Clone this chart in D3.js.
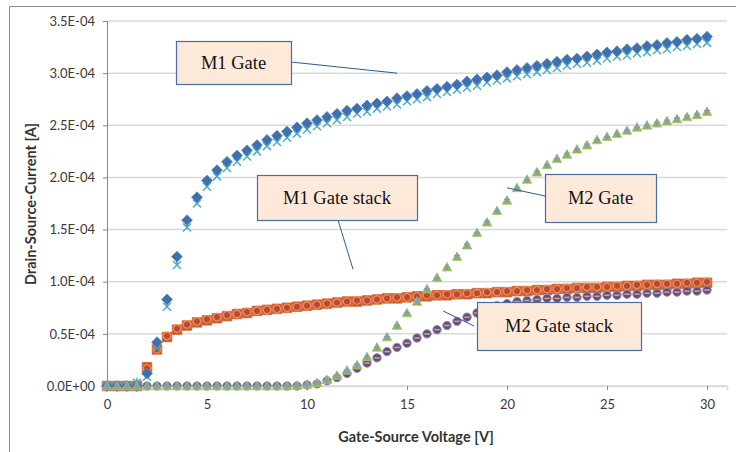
<!DOCTYPE html>
<html>
<head>
<meta charset="utf-8">
<script src="https://cdn.jsdelivr.net/npm/d3@7"></script>
<style>
  body { margin: 0; background: #fff; }
  svg { display: block; }
  .tick text { font-family: Lato, "Open Sans", sans-serif; font-size: 13px; fill: #3a3a3a; }
  .axis-title { font-family: Lato, "Open Sans", sans-serif; font-size: 14.5px; font-weight: bold; fill: #333; }
  .callout text { font-family: "Liberation Serif", "Times New Roman", serif; font-size: 18.5px; fill: #111; }
</style>
</head>
<body>
<svg id="chart"></svg>
<script>
// gate-source sweep, 0..30 V in 0.5 V steps
const volts = d3.range(0, 30.001, 0.5);

// drain-source current, in units of 1E-04 A
const m1Diamond = [
  0, 0, 0, 0, 0.12, 0.42, 0.83, 1.24, 1.59, 1.81,
  1.97, 2.07, 2.15, 2.21, 2.26, 2.31, 2.36, 2.40, 2.44, 2.48,
  2.52, 2.55, 2.58, 2.61, 2.64, 2.66, 2.69, 2.71, 2.73, 2.76,
  2.78, 2.80, 2.83, 2.85, 2.87, 2.89, 2.92, 2.94, 2.96, 2.98,
  3.01, 3.03, 3.05, 3.07, 3.09, 3.11, 3.13, 3.14, 3.16, 3.18,
  3.20, 3.21, 3.23, 3.24, 3.26, 3.27, 3.29, 3.30, 3.32, 3.33,
  3.35];
const m1Star = [
  0, 0, 0, 0.03, 0.09, 0.37, 0.76, 1.16, 1.52, 1.75,
  1.91, 2.01, 2.09, 2.15, 2.20, 2.25, 2.30, 2.34, 2.38, 2.42,
  2.46, 2.49, 2.52, 2.55, 2.58, 2.61, 2.63, 2.66, 2.68, 2.70,
  2.73, 2.75, 2.77, 2.80, 2.82, 2.84, 2.86, 2.88, 2.91, 2.93,
  2.95, 2.97, 2.99, 3.01, 3.03, 3.05, 3.07, 3.09, 3.10, 3.12,
  3.14, 3.16, 3.17, 3.19, 3.20, 3.22, 3.23, 3.25, 3.26, 3.28,
  3.29];
const m1StackSquare = [
  0, 0, 0, 0, 0.18, 0.35, 0.47, 0.54, 0.58, 0.61,
  0.63, 0.65, 0.67, 0.69, 0.70, 0.72, 0.73, 0.74, 0.75, 0.76,
  0.77, 0.78, 0.79, 0.80, 0.81, 0.81, 0.82, 0.83, 0.84, 0.84,
  0.85, 0.86, 0.86, 0.87, 0.87, 0.88, 0.88, 0.89, 0.89, 0.90,
  0.90, 0.91, 0.91, 0.92, 0.92, 0.93, 0.93, 0.94, 0.94, 0.94,
  0.95, 0.95, 0.96, 0.96, 0.97, 0.97, 0.97, 0.98, 0.98, 0.99,
  0.99];
const m1StackCircle = [
  0, 0, 0, 0, 0.17, 0.35, 0.48, 0.55, 0.59, 0.62,
  0.64, 0.66, 0.68, 0.69, 0.71, 0.72, 0.73, 0.74, 0.75, 0.76,
  0.77, 0.78, 0.79, 0.80, 0.81, 0.82, 0.82, 0.83, 0.84, 0.85,
  0.85, 0.86, 0.87, 0.87, 0.88, 0.88, 0.89, 0.89, 0.90, 0.90,
  0.91, 0.91, 0.92, 0.92, 0.93, 0.93, 0.94, 0.94, 0.95, 0.95,
  0.95, 0.96, 0.96, 0.97, 0.97, 0.98, 0.98, 0.98, 0.99, 0.99,
  1.00];
const m2Triangle = [
  0, 0, 0, 0, 0, 0, 0, 0, 0, 0,
  0, 0, 0, 0, 0, 0, 0, 0, 0, 0.005,
  0.015, 0.03, 0.06, 0.10, 0.15, 0.20, 0.28, 0.37, 0.47, 0.58,
  0.70, 0.81, 0.93, 1.04, 1.14, 1.24, 1.35, 1.47, 1.57, 1.68,
  1.78, 1.90, 1.98, 2.05, 2.12, 2.18, 2.22, 2.27, 2.31, 2.36,
  2.39, 2.42, 2.45, 2.48, 2.50, 2.52, 2.54, 2.56, 2.58, 2.60,
  2.63];
const m2Cross = [
  0, 0, 0, 0, 0, 0, 0, 0, 0, 0,
  0, 0, 0, 0, 0, 0, 0, 0, 0, 0.005,
  0.015, 0.03, 0.06, 0.10, 0.15, 0.21, 0.28, 0.37, 0.47, 0.58,
  0.70, 0.82, 0.93, 1.04, 1.14, 1.25, 1.36, 1.47, 1.58, 1.68,
  1.79, 1.90, 1.98, 2.06, 2.12, 2.18, 2.23, 2.27, 2.32, 2.36,
  2.39, 2.42, 2.45, 2.48, 2.50, 2.53, 2.55, 2.57, 2.59, 2.61,
  2.64];
const m2StackCircle = [
  0, 0, 0, 0, 0, 0, 0, 0, 0, 0,
  0, 0, 0, 0, 0, 0, 0, 0, 0, 0,
  0.01, 0.02, 0.05, 0.08, 0.12, 0.17, 0.22, 0.27, 0.33, 0.37,
  0.41, 0.46, 0.50, 0.54, 0.58, 0.62, 0.66, 0.70, 0.74, 0.77,
  0.79, 0.81, 0.82, 0.83, 0.84, 0.84, 0.85, 0.85, 0.86, 0.86,
  0.87, 0.87, 0.88, 0.88, 0.89, 0.89, 0.90, 0.90, 0.91, 0.91,
  0.92];
const m2StackDash = [
  0, 0, 0, 0, 0, 0, 0, 0, 0, 0,
  0, 0, 0, 0, 0, 0, 0, 0, 0, 0,
  0.01, 0.02, 0.05, 0.08, 0.12, 0.17, 0.22, 0.27, 0.33, 0.37,
  0.41, 0.46, 0.50, 0.54, 0.58, 0.62, 0.66, 0.70, 0.74, 0.77,
  0.79, 0.81, 0.82, 0.83, 0.84, 0.84, 0.85, 0.85, 0.86, 0.86,
  0.87, 0.87, 0.88, 0.88, 0.89, 0.89, 0.90, 0.90, 0.91, 0.91,
  0.92];

const xTicks = [0, 5, 10, 15, 20, 25, 30];
const yTicks = [0, 0.5, 1.0, 1.5, 2.0, 2.5, 3.0, 3.5];

const callouts = [
  {text: 'M1 Gate', box: [176, 41, 115, 43], from: [291, 62], toV: 14.5, toI: 3.00},
  {text: 'M1 Gate stack', box: [257, 175, 160, 45], from: [338, 220], toV: 12.3, toI: 1.12},
  {text: 'M2 Gate', box: [545, 174, 111, 48], from: [545, 196], toV: 20.0, toI: 1.90},
  {text: 'M2 Gate stack', box: [477, 302, 164, 48], from: [474, 326], toV: 16.8, toI: 0.72}
];

const width = 736, height = 452;
const svg = d3.select('#chart').attr('width', width).attr('height', height);

// chart frame
svg.append('path')
  .attr('d', `M9.5,${height}V6.5H${width}`)
  .attr('fill', 'none')
  .attr('stroke', '#8c8c8c');

const x = d3.scaleLinear().domain([0, 31]).range([107, 727]);
const y = d3.scaleLinear().domain([0, 3.5]).range([386, 21]);

// grid
svg.append('g')
  .selectAll('line')
  .data(yTicks)
  .join('line')
  .attr('x1', x(0)).attr('x2', x(31))
  .attr('y1', d => y(d)).attr('y2', d => y(d))
  .attr('stroke', '#d9d9d9')
  .attr('stroke-width', 1.5);

const yFmt = d => d === 0 ? '0.0E+00' : d.toFixed(1) + 'E-04';

const yAxis = svg.append('g')
  .attr('transform', `translate(${x(0)},0)`)
  .call(d3.axisLeft(y).tickValues(yTicks).tickFormat(yFmt).tickSize(4).tickPadding(8));
yAxis.select('.domain').attr('stroke', '#868686');
yAxis.selectAll('.tick line').attr('stroke', '#868686');

const xAxis = svg.append('g')
  .attr('transform', `translate(0,${y(0)})`)
  .call(d3.axisBottom(x).tickValues(xTicks).tickFormat(d3.format('d')).tickSize(4).tickPadding(10));
xAxis.select('.domain').attr('stroke', '#d9d9d9').attr('stroke-width', 1.5);
xAxis.selectAll('.tick line').attr('stroke', '#868686');

svg.append('text')
  .attr('class', 'axis-title')
  .attr('text-anchor', 'middle')
  .attr('x', 416).attr('y', 442)
  .text('Gate-Source Voltage [V]');

svg.append('text')
  .attr('class', 'axis-title')
  .attr('text-anchor', 'middle')
  .attr('transform', 'translate(36,204) rotate(-90)')
  .text('Drain-Source-Current [A]');

// marker shapes
const diamond = r => `M0,${-r}L${r},0L0,${r}L${-r},0Z`;
const square = r => `M${-r},${-r}H${r}V${r}H${-r}Z`;
const triangle = r => `M0,${-r}L${r},${r * 0.8}H${-r}Z`;
const star = r => `M${-r},${-r}L${r},${r}M${r},${-r}L${-r},${r}M0,0V${-r * 1.2}`;
const cross = r => `M${-r},0H${r}M0,${-r}V${r}`;
const dash = r => `M${-r},0H${r}`;
const circle = r => `M${r},0A${r},${r} 0 1,1 ${-r},0A${r},${r} 0 1,1 ${r},0Z`;

const plot = svg.append('g');

function drawSeries(values, shape, r, style) {
  const g = plot.append('g');
  g.selectAll('path')
    .data(values.map((v, i) => [volts[i], v]))
    .join('path')
    .attr('transform', d => `translate(${x(d[0])},${y(d[1])})`)
    .attr('d', shape(r))
    .attr('fill', style.fill || 'none')
    .attr('stroke', style.stroke || 'none')
    .attr('stroke-width', style.sw || 1);
}

drawSeries(m1StackSquare, square, 4.8, {fill: '#c9582f', stroke: '#d4683a', sw: 0.8});
drawSeries(m1StackCircle, circle, 3.7, {fill: '#b8483e', stroke: '#f0904a', sw: 1.3});
drawSeries(m2StackCircle, circle, 4.2, {fill: '#5e5279', stroke: '#9a8fba', sw: 1});
drawSeries(m2StackDash, dash, 2.6, {stroke: '#e9958a', sw: 1.6});
drawSeries(m1Star, star, 4, {stroke: '#4bacc6', sw: 1.5});
drawSeries(m1Diamond, diamond, 5.4, {fill: '#3e70ae', stroke: '#4f81bd', sw: 0.8});
drawSeries(m2Triangle, triangle, 4.8, {fill: '#93b259', stroke: '#a9c47a', sw: 0.8});
drawSeries(m2Cross, cross, 3, {stroke: '#7a9cc8', sw: 1.3});

// callouts
const cg = svg.append('g').attr('class', 'callout');
callouts.forEach(c => {
  cg.append('line')
    .attr('x1', c.from[0]).attr('y1', c.from[1])
    .attr('x2', x(c.toV)).attr('y2', y(c.toI))
    .attr('stroke', '#2e5c8f')
    .attr('stroke-width', 1);
  cg.append('rect')
    .attr('x', c.box[0] + 0.5).attr('y', c.box[1] + 0.5)
    .attr('width', c.box[2]).attr('height', c.box[3])
    .attr('fill', '#fde9d9')
    .attr('stroke', '#4a6e9e')
    .attr('stroke-width', 1.2);
  cg.append('text')
    .attr('x', c.box[0] + c.box[2] / 2)
    .attr('y', c.box[1] + c.box[3] / 2 + 6)
    .attr('text-anchor', 'middle')
    .text(c.text);
});
</script>
</body>
</html>
